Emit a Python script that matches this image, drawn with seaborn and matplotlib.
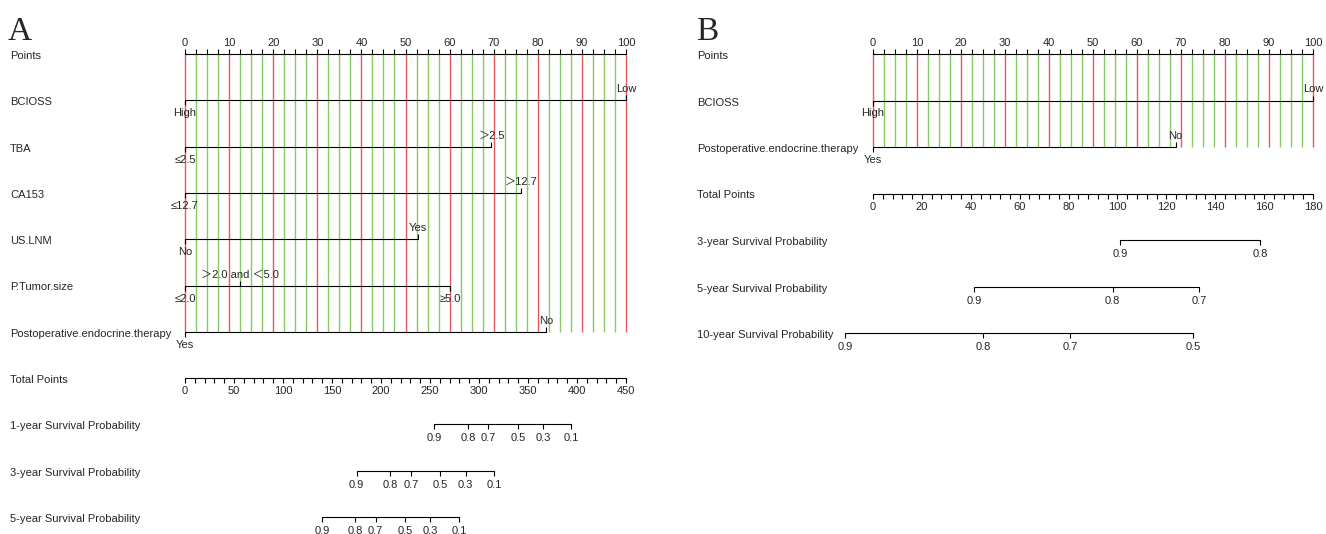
import numpy as np
import matplotlib
matplotlib.use("Agg")
import matplotlib.pyplot as plt
import seaborn as sns

# values
a_vars = ["BCIOSS", "TBA", "CA153", "US.LNM", "P.Tumor.size",
          "Postoperative.endocrine.therapy"]
a_levels = [["High", "Low"], ["≤2.5", "＞2.5"], ["≤12.7", "＞12.7"],
            ["No", "Yes"], ["≤2.0", "＞2.0 and ＜5.0", "≥5.0"], ["Yes", "No"]]
a_points = [[0, 100], [0, 69.5], [0, 76.1], [0, 52.9], [0, 12.4, 60.1], [0, 81.9]]
a_total_max = 450
a_surv_names = ["1-year Survival Probability", "3-year Survival Probability",
                "5-year Survival Probability"]
a_surv_probs = [[0.9, 0.8, 0.7, 0.5, 0.3, 0.1],
                [0.9, 0.8, 0.7, 0.5, 0.3, 0.1],
                [0.9, 0.8, 0.7, 0.5, 0.3, 0.1]]
a_surv_totals = [[254.2, 289.0, 309.2, 340.0, 365.4, 394.2],
                 [175.2, 209.5, 230.6, 260.6, 286.4, 315.6],
                 [140.0, 173.9, 194.5, 224.6, 250.3, 280.0]]

b_vars = ["BCIOSS", "Postoperative.endocrine.therapy"]
b_levels = [["High", "Low"], ["Yes", "No"]]
b_points = [[0, 100], [0, 68.8]]
b_total_max = 180
b_surv_names = ["3-year Survival Probability", "5-year Survival Probability",
                "10-year Survival Probability"]
b_surv_probs = [[0.9, 0.8], [0.9, 0.8, 0.7], [0.9, 0.8, 0.7, 0.5]]
b_surv_totals = [[101.1, 158.3], [41.3, 98.0, 133.5], [-11.5, 45.0, 80.5, 131.0]]

sns.set_theme(style="white")
plt.rcParams['font.family'] = ['Liberation Sans', 'Noto Sans CJK SC', 'DejaVu Sans']
plt.rcParams['font.size'] = 8

W, H = 1326, 534
RED = '#e65a5a'
GREEN = '#86cc64'
LW = 0.8


def tick_row(ax, xs, row, up):
    ax.plot(xs, [row] * len(xs), ls='', marker=2 if up else 3, ms=3.5,
            mew=LW, color='black', clip_on=False)


def put(ax, text, x, row, dy):
    ax.annotate(text, (x, row), xytext=(0, dy), textcoords='offset pixels',
                ha='center', va='center', annotation_clip=False)


def draw_nomogram(ax, label_px, vars_, levels, points, total_max, total_major,
                  total_minor, surv_names, surv_probs, surv_totals):
    n = len(vars_)
    nrows = n + 2 + len(surv_names)

    # grid lines behind the predictor rows
    for p in np.arange(0, 100.01, 2.5):
        ax.vlines(p, 0, n, color=RED if p % 10 == 0 else GREEN, lw=1.0,
                  zorder=1, clip_on=False)

    def row_label(text, row):
        ax.annotate(text, xy=(label_px, row), xycoords=('figure pixels', 'data'),
                    xytext=(0, -2), textcoords='offset pixels',
                    ha='left', va='center', annotation_clip=False)

    # Points scale
    row_label("Points", 0)
    ax.plot([0, 100], [0, 0], color='black', lw=LW, clip_on=False, zorder=3)
    tick_row(ax, list(np.arange(0, 100.01, 2.5)), 0, True)
    for v in range(0, 101, 10):
        put(ax, str(v), v, 0, 11)

    # predictors
    for i, (name, levs, pts) in enumerate(zip(vars_, levels, points)):
        row = i + 1
        row_label(name, row)
        ax.plot([min(pts), max(pts)], [row, row], color='black', lw=LW,
                clip_on=False, zorder=3)
        order = np.argsort(pts)
        for k, j in enumerate(order):
            up = k % 2 == 1
            tick_row(ax, [pts[j]], row, up)
            put(ax, levs[j], pts[j], row, 11 if up else -13)

    # Total points scale
    trow = n + 1
    row_label("Total Points", trow)
    scale = 100 / total_max
    ax.plot([0, 100], [trow, trow], color='black', lw=LW, clip_on=False)
    minor = np.arange(0, total_max + 0.01, total_minor)
    tick_row(ax, list(minor * scale), trow, False)
    for v in range(0, total_max + 1, total_major):
        put(ax, str(v), v * scale, trow, -13)

    # survival probability scales
    for k, (name, probs, tots) in enumerate(zip(surv_names, surv_probs, surv_totals)):
        row = trow + 1 + k
        row_label(name, row)
        xs = [t * scale for t in tots]
        ax.plot([min(xs), max(xs)], [row, row], color='black', lw=LW, clip_on=False)
        tick_row(ax, xs, row, False)
        for x, p in zip(xs, probs):
            put(ax, f"{p:g}", x, row, -14)

    ax.set_xlim(0, 100)
    ax.set_ylim(nrows - 1, 0)
    ax.axis('off')


fig = plt.figure(figsize=(W / 100, H / 100), dpi=100)
ax_a = fig.add_axes([185 / W, (H - 517) / H, 441 / W, (517 - 54) / H])
ax_b = fig.add_axes([873 / W, (H - 333) / H, 440 / W, (333 - 54) / H])

draw_nomogram(ax_a, 10, a_vars, a_levels, a_points, a_total_max, 50, 10,
              a_surv_names, a_surv_probs, a_surv_totals)
draw_nomogram(ax_b, 697, b_vars, b_levels, b_points, b_total_max, 20, 4,
              b_surv_names, b_surv_probs, b_surv_totals)

fig.text(8 / W, 1 - 40 / H, "A", family='Liberation Serif', fontsize=24, va='baseline')
fig.text(696 / W, 1 - 40 / H, "B", family='Liberation Serif', fontsize=24, va='baseline')

fig.savefig('out.png', dpi=100)
